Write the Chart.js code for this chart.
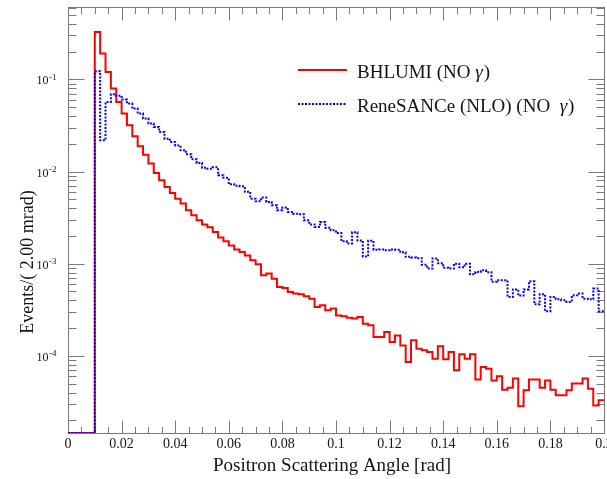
<!DOCTYPE html>
<html>
<head>
<meta charset="utf-8">
<script src="https://cdn.jsdelivr.net/npm/chart.js@4.4.1/dist/chart.umd.min.js"></script>
<style>
    html, body { margin: 0; padding: 0; background: #fff; }
    #wrap { width: 607px; height: 479px; }
</style>
</head>
<body>
<div id="wrap"><canvas id="histChart" width="607" height="479" style="width:607px;height:479px"></canvas></div>
<script>
// binning: 2.00 mrad bins from 0 to 0.2 rad
const binWidth = 0.002;

// events per bin (0 = empty bin)
const bhlumi = [
    0, 0, 0, 0, 0, 0.326, 0.190, 0.120, 0.0793, 0.0567,
    0.0425, 0.0317, 0.0241, 0.0188, 0.0152, 0.0122, 0.00963, 0.00803, 0.00679, 0.00585,
    0.00508, 0.00449, 0.00379, 0.00335, 0.00296, 0.00267, 0.00248, 0.00221, 0.00193, 0.00175,
    0.00158, 0.00143, 0.00134, 0.00123, 0.00109, 0.000985, 0.000748, 0.000781, 0.000689, 0.000559,
    0.000545, 0.000493, 0.000474, 0.000466, 0.000443, 0.000418, 0.000339, 0.000354, 0.000313, 0.000326,
    0.000275, 0.000269, 0.000260, 0.000254, 0.000264, 0.000224, 0.000215, 0.000160, 0.000160, 0.000182,
    0.000142, 0.000167, 0.000130, 0.0000859, 0.000148, 0.000120, 0.000115, 0.000110, 0.0000935, 0.000127,
    0.0000918, 0.000110, 0.0000698, 0.000104, 0.0000935, 0.000104, 0.0000557, 0.0000758, 0.0000728, 0.0000543,
    0.0000601, 0.0000431, 0.0000453, 0.0000568, 0.0000284, 0.0000424, 0.0000557, 0.0000557, 0.0000453, 0.0000543,
    0.0000431, 0.0000374, 0.0000374, 0.0000424, 0.0000501, 0.0000501, 0.0000568, 0.0000442, 0.0000291, 0.0000330
];

const renesance = [
    0, 0, 0, 0, 0, 0.122, 0.0218, 0.0567, 0.0687, 0.0662,
    0.0602, 0.0545, 0.0481, 0.0425, 0.0375, 0.0331, 0.0304, 0.0268, 0.0227, 0.0209,
    0.0192, 0.0170, 0.0154, 0.0136, 0.0124, 0.0110, 0.0107, 0.0111, 0.00910, 0.00855,
    0.00726, 0.00700, 0.00691, 0.00603, 0.00508, 0.00475, 0.00521, 0.00467, 0.00430, 0.00379,
    0.00406, 0.00364, 0.00349, 0.00344, 0.00296, 0.00267, 0.00250, 0.00283, 0.00246, 0.00230,
    0.00215, 0.00175, 0.00166, 0.00219, 0.00179, 0.00120, 0.00177, 0.00142, 0.00143, 0.00140,
    0.00143, 0.00142, 0.00133, 0.00119, 0.00117, 0.00115, 0.000973, 0.000885, 0.00114, 0.00101,
    0.000903, 0.000885, 0.00100, 0.000914, 0.00100, 0.000767, 0.000813, 0.000848, 0.000807, 0.000637,
    0.000661, 0.000661, 0.000436, 0.000527, 0.000451, 0.000527, 0.000644, 0.000363, 0.000466, 0.000305,
    0.000436, 0.000411, 0.000401, 0.000385, 0.000454, 0.000474, 0.000418, 0.000411, 0.000537, 0.000305
];

const seriesLabels = ['BHLUMI (NO γ)', 'ReneSANCe (NLO) (NO  γ)'];
const xTickValues = [0, 0.02, 0.04, 0.06, 0.08, 0.1, 0.12, 0.14, 0.16, 0.18, 0.2];
const xTickLabels = ['0', '0.02', '0.04', '0.06', '0.08', '0.1', '0.12', '0.14', '0.16', '0.18', '0.2'];
const yTickValues = [1e-1, 1e-2, 1e-3, 1e-4];
const yTickLabels = [['10', '-1'], ['10', '-2'], ['10', '-3'], ['10', '-4']];
const xTitle = 'Positron Scattering Angle [rad]';
const yTitle = 'Events/( 2.00 mrad)';

const yMin = 1.46e-5;
const yMax = 0.608;

const serif = '"Liberation Serif", "Times New Roman", serif';
const axisColor = '#7a7a7a';
const textColor = '#141414';
const dotDash = [2, 1.5];

// histogram -> points at low bin edges, plus closing point at the last edge.
// empty bins sit on the bottom of the frame, like ROOT does on a log axis
function toSteps(values) {
    const pts = values.map((v, i) => ({ x: i * binWidth, y: v > 0 ? v : yMin }));
    pts.push({ x: values.length * binWidth, y: pts[pts.length - 1].y });
    return pts;
}

function drawLabel(ctx, label, x, y) {
    // gamma is drawn in italics like ROOT's #gamma
    const parts = label.split('γ');
    let cx = x;
    parts.forEach((p, i) => {
        ctx.font = '19px ' + serif;
        ctx.fillText(p, cx, y);
        cx += ctx.measureText(p).width;
        if (i < parts.length - 1) {
            ctx.font = 'italic 19px ' + serif;
            ctx.fillText('γ', cx, y);
            cx += ctx.measureText('γ').width + 1;
        }
    });
}

const rootFrame = {
    id: 'rootFrame',
    beforeDatasetsDraw(chart) {
        const { ctx, chartArea: a, scales: { x, y } } = chart;
        ctx.save();
        ctx.strokeStyle = axisColor;
        ctx.lineWidth = 1;
        const L = Math.round(a.left) + 0.5, R = Math.round(a.right) + 0.5;
        const T = Math.round(a.top) + 0.5, B = Math.round(a.bottom) + 0.5;
        ctx.strokeRect(L, T, R - L, B - T);

        ctx.beginPath();
        // x ticks, inside the frame, bottom and top
        for (let i = 0; i <= 40; i++) {
            const px = Math.round(x.getPixelForValue(i * 0.005)) + 0.5;
            const len = i % 4 === 0 ? 13 : 6.5;
            ctx.moveTo(px, B); ctx.lineTo(px, B - len);
            ctx.moveTo(px, T); ctx.lineTo(px, T + len);
        }
        // y ticks, log decades with 2..9 minors
        for (let d = -6; d <= 0; d++) {
            for (let m = 1; m <= 9; m++) {
                const v = m * Math.pow(10, d);
                if (v < y.min || v > y.max) continue;
                const py = Math.round(y.getPixelForValue(v)) + 0.5;
                const len = m === 1 ? 16 : 8;
                ctx.moveTo(L, py); ctx.lineTo(L + len, py);
                ctx.moveTo(R, py); ctx.lineTo(R - len, py);
            }
        }
        ctx.stroke();
        ctx.restore();
    },
    afterDraw(chart) {
        const { ctx, scales: { x, y } } = chart;
        ctx.save();
        ctx.fillStyle = textColor;

        // x tick labels
        ctx.font = '14px ' + serif;
        ctx.textAlign = 'center';
        ctx.textBaseline = 'alphabetic';
        xTickValues.forEach((v, i) => {
            ctx.fillText(xTickLabels[i], x.getPixelForValue(v), 448);
        });

        // y tick labels 10^n
        ctx.textAlign = 'left';
        yTickValues.forEach((v, i) => {
            const py = y.getPixelForValue(v);
            const [base, ex] = yTickLabels[i];
            ctx.font = '9px ' + serif;
            const we = ctx.measureText(ex).width;
            ctx.font = '12px ' + serif;
            const wb = ctx.measureText(base).width;
            const x0 = 56 - we - wb;
            ctx.fillText(base, x0, py + 5);
            ctx.font = '9px ' + serif;
            ctx.fillText(ex, x0 + wb + 0.5, py + 0.5);
        });

        // axis titles
        ctx.font = '19px ' + serif;
        ctx.textAlign = 'center';
        ctx.fillText(xTitle, 332, 471);
        ctx.save();
        ctx.translate(33, 262);
        ctx.rotate(-Math.PI / 2);
        ctx.font = '18px ' + serif;
        ctx.fillText(yTitle, 0, 0);
        ctx.restore();

        // legend
        ctx.lineWidth = 2;
        ctx.strokeStyle = '#ff0000';
        ctx.beginPath(); ctx.moveTo(298, 70); ctx.lineTo(347, 70); ctx.stroke();
        ctx.strokeStyle = '#0000ff';
        ctx.setLineDash(dotDash);
        ctx.beginPath(); ctx.moveTo(298, 104); ctx.lineTo(347, 104); ctx.stroke();
        ctx.setLineDash([]);
        ctx.textAlign = 'left';
        drawLabel(ctx, seriesLabels[0], 357, 78);
        drawLabel(ctx, seriesLabels[1], 357, 111.5);

        ctx.restore();
    }
};

const ctx = document.getElementById('histChart').getContext('2d');
new Chart(ctx, {
    type: 'line',
    data: {
        datasets: [
            {
                label: seriesLabels[1],
                data: toSteps(renesance),
                stepped: 'before',
                borderColor: '#0000ff',
                borderWidth: 2,
                borderDash: dotDash,
                pointRadius: 0,
                fill: false,
                order: 0
            },
            {
                label: seriesLabels[0],
                data: toSteps(bhlumi),
                stepped: 'before',
                borderColor: '#ff0000',
                borderWidth: 2,
                pointRadius: 0,
                fill: false,
                order: 1
            }
        ]
    },
    options: {
        responsive: false,
        animation: false,
        devicePixelRatio: 1,
        layout: { padding: { left: 68, top: 7, right: 3, bottom: 46 } },
        scales: {
            x: { type: 'linear', min: 0, max: 0.2, display: false },
            y: { type: 'logarithmic', min: yMin, max: yMax, display: false }
        },
        plugins: {
            legend: { display: false },
            tooltip: { enabled: false }
        }
    },
    plugins: [rootFrame]
});
</script>
</body>
</html>
